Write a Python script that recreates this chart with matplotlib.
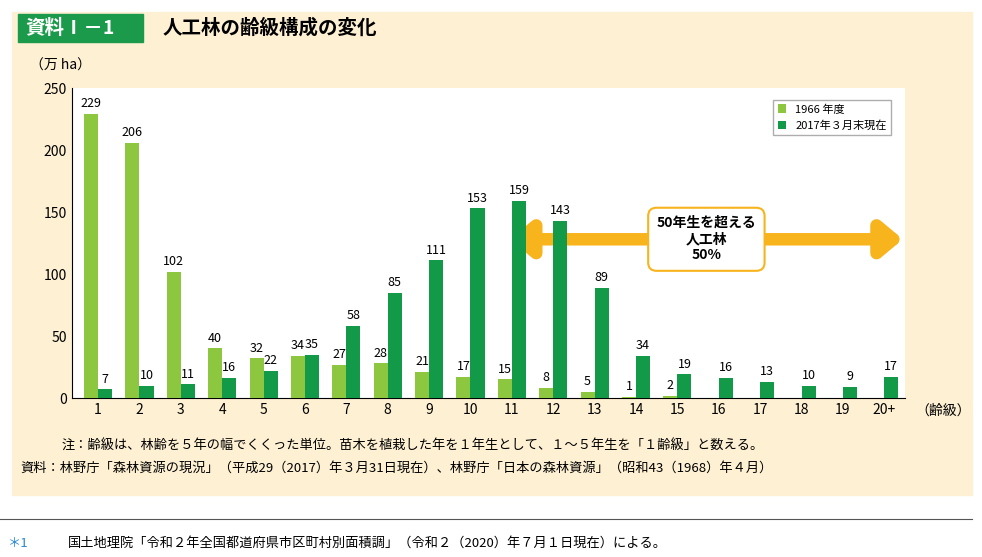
# -*- coding: utf-8 -*-

import matplotlib.pyplot as plt
from matplotlib.patches import FancyBboxPatch, Rectangle
import numpy as np

plt.rcParams["font.family"] = ["Noto Sans CJK JP", "DejaVu Sans"]

classes = ["1", "2", "3", "4", "5", "6", "7", "8", "9", "10",
           "11", "12", "13", "14", "15", "16", "17", "18", "19", "20+"]
area_1966 = [229, 206, 102, 40, 32, 34, 27, 28, 21, 17, 15, 8, 5, 1, 2, 0, 0, 0, 0, 0]
area_2017 = [7, 10, 11, 16, 22, 35, 58, 85, 111, 153, 159, 143, 89, 34, 19, 16, 13, 10, 9, 17]

light = "#8dc63f"
dark = "#139a48"

fig = plt.figure(figsize=(9.82, 5.57), dpi=100)
fig.patches.append(Rectangle((12 / 982, 62 / 557), 960 / 982, 483 / 557,
                             transform=fig.transFigure, color="#fdf0d3", zorder=-2))
fig.patches.append(Rectangle((18 / 982, 515 / 557), 125 / 982, 28 / 557,
                             transform=fig.transFigure, color="#1a9a4a", zorder=-1))
fig.text(25 / 982, 529 / 557, "資料Ⅰ－1", color="white", fontsize=14,
         fontweight="bold", va="center")
fig.text(163 / 982, 529 / 557, "人工林の齢級構成の変化", fontsize=14,
         fontweight="bold", va="center")

ax = fig.add_axes([72 / 982, 159 / 557, 833 / 982, 310 / 557])
x = np.arange(len(classes))
w = 0.34
b1 = ax.bar(x - w / 2, area_1966, w, color=light, label="1966 年度", zorder=3)
b2 = ax.bar(x + w / 2, area_2017, w, color=dark, label="2017年３月末現在", zorder=3)
for i, v in enumerate(area_1966):
    if v > 0:
        ax.text(x[i] - w / 2, v + 3, str(v), ha="center", va="bottom", fontsize=9, zorder=4)
for i, v in enumerate(area_2017):
    ax.text(x[i] + w / 2, v + 3, str(v), ha="center", va="bottom", fontsize=9, zorder=4)

ax.set_xlim(-0.63, 19.5)
ax.set_ylim(0, 250)
ax.set_yticks(range(0, 251, 50))
ax.set_xticks(x)
ax.set_xticklabels(classes)
ax.tick_params(length=0, labelsize=10)
for s in ["top", "right"]:
    ax.spines[s].set_visible(False)
ax.text(19.75, -10, "（齢級）", fontsize=10, va="center")
ax.text(-0.9, 262, "（万 ha）", fontsize=10, va="bottom", ha="center")

# arrow for >50 years
ax.annotate("", xy=(19.45, 128), xytext=(9.95, 128),
            arrowprops=dict(arrowstyle="<|-|>,head_length=1.2,head_width=1.0",
                            color="#f8b41c", lw=9, shrinkA=0, shrinkB=0),
            annotation_clip=False, zorder=2)
ax.text(14.7, 128, "50年生を超える\n人工林\n50%", ha="center", va="center",
        fontsize=10, fontweight="bold", linespacing=1.2, zorder=5,
        bbox=dict(boxstyle="round,pad=0.6", fc="white", ec="#f8b41c", lw=1.5))

leg = ax.legend(loc="upper right", bbox_to_anchor=(0.99, 0.98), fontsize=8,
                frameon=True, fancybox=False, edgecolor="#999999",
                handlelength=0.8, handleheight=0.8)

fig.text(62 / 982, 111 / 557,
         "注：齢級は、林齢を５年の幅でくくった単位。苗木を植栽した年を１年生として、１～５年生を「１齢級」と数える。",
         fontsize=9.5, va="center")
fig.text(20 / 982, 89 / 557,
         "資料：林野庁「森林資源の現況」（平成29（2017）年３月31日現在）、林野庁「日本の森林資源」（昭和43（1968）年４月）",
         fontsize=9.5, va="center")
fig.add_artist(plt.Line2D([0, 972 / 982], [38 / 557, 38 / 557], color="#555555", lw=0.8))
fig.text(8 / 982, 14 / 557, "＊1", color="#2a8ad4", fontsize=9.5, va="center")
fig.text(68 / 982, 14 / 557,
         "国土地理院「令和２年全国都道府県市区町村別面積調」（令和２（2020）年７月１日現在）による。",
         fontsize=9.5, va="center")

fig.savefig("out.png", dpi=100)
